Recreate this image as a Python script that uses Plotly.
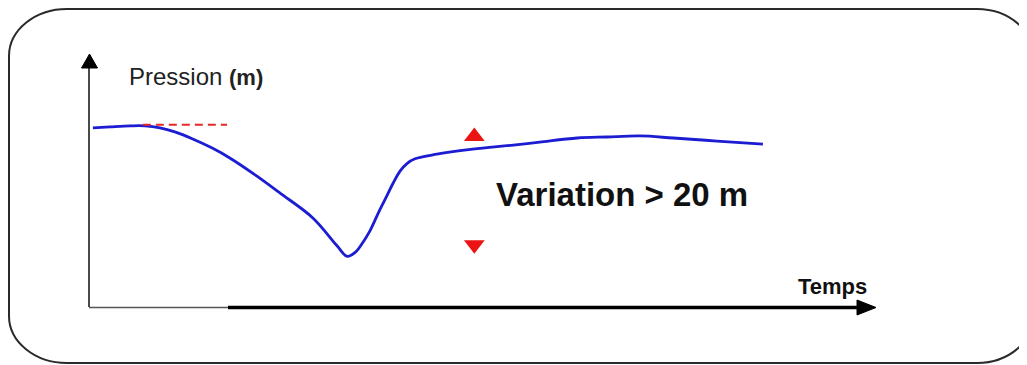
import plotly.graph_objects as go

# ---- data (time in arbitrary units, pressure in m) ----
time_vals = [0.5, 2.7, 5.3, 7.2, 9.1, 11.0, 13.3, 15.8, 18.1, 21.3, 24.5, 28.7,
             31.8, 33.1, 34.2, 35.0, 36.0, 37.1, 38.2, 39.0,
             39.9, 40.8, 41.8, 44.6, 49.2, 54.4, 57.8, 62.6, 66.4, 70.6, 74.9,
             80.5, 86.4]
pressure_vals = [35.4, 35.6, 35.8, 35.8, 35.4, 34.6, 33.2, 31.4, 29.4, 26.1, 22.5,
                 17.6, 12.1, 10.0, 10.9, 12.5, 15.0, 18.6, 22.0,
                 24.5, 26.9, 28.4, 29.3, 30.2, 31.2, 32.0, 32.6, 33.4, 33.6, 33.8,
                 33.4, 32.8, 32.2]
ref_time = [6.9, 17.7]
ref_pressure = [36.0, 36.0]
marker_time = [49.4, 49.4]
marker_pressure = [33.7, 12.3]
marker_symbols = ["triangle-up", "triangle-down"]

# page is 1027x365 but the figure sits at an 8px body offset
PAGE_W, PAGE_H = 1027, 365
OFF = 8
W, H = PAGE_W - OFF, PAGE_H - OFF
# page-pixel anchors of the axes origin and scale
OX, OY = 89, 307
SX, SY = 7.8, 5.06


def px(x):
    return (x - OFF) / W


def py(y):
    return 1 - (y - OFF) / H


fig = go.Figure()
fig.add_trace(go.Scatter(x=time_vals, y=pressure_vals, mode="lines",
                         line=dict(color="rgb(28,28,210)", width=2.8, shape="spline", smoothing=1.0),
                         hoverinfo="skip"))
fig.add_trace(go.Scatter(x=ref_time, y=ref_pressure, mode="lines",
                         line=dict(color="rgb(230,40,40)", width=2, dash="8px,5px"),
                         hoverinfo="skip"))
fig.add_trace(go.Scatter(x=marker_time, y=marker_pressure, mode="markers",
                         marker=dict(symbol=marker_symbols, size=18, color="rgb(235,20,20)",
                                     line=dict(width=0)),
                         hoverinfo="skip"))

shapes = []
# rounded frame
L, T, R, B = 9, 9, 1035, 363
rxl, ryl = 58, 47
rxr, ryr = 58, 50
k = 0.552
path = (
    f"M {px(L + rxl)},{py(T)} L {px(R - rxr)},{py(T)} "
    f"C {px(R - rxr + k * rxr)},{py(T)} {px(R)},{py(T + ryr - k * ryr)} {px(R)},{py(T + ryr)} "
    f"L {px(R)},{py(B - ryr)} "
    f"C {px(R)},{py(B - ryr + k * ryr)} {px(R - rxr + k * rxr)},{py(B)} {px(R - rxr)},{py(B)} "
    f"L {px(L + rxl)},{py(B)} "
    f"C {px(L + rxl - k * rxl)},{py(B)} {px(L)},{py(B - ryl + k * ryl)} {px(L)},{py(B - ryl)} "
    f"L {px(L)},{py(T + ryl)} "
    f"C {px(L)},{py(T + ryl - k * ryl)} {px(L + rxl - k * rxl)},{py(T)} {px(L + rxl)},{py(T)} Z"
)
shapes.append(dict(type="path", xref="paper", yref="paper", path=path,
                   line=dict(color="#2a2a2a", width=2)))
# vertical axis
shapes.append(dict(type="line", xref="paper", yref="paper", x0=px(89), x1=px(89),
                   y0=py(307), y1=py(66), line=dict(color="#4a4a4a", width=2)))
shapes.append(dict(type="path", xref="paper", yref="paper",
                   path=f"M {px(81.5)},{py(68)} L {px(97.5)},{py(68)} L {px(89.5)},{py(54)} Z",
                   fillcolor="black", line=dict(color="black", width=1)))
# horizontal axis
shapes.append(dict(type="line", xref="paper", yref="paper", x0=px(89), x1=px(228),
                   y0=py(307.5), y1=py(307.5), line=dict(color="#555555", width=1.5)))
shapes.append(dict(type="line", xref="paper", yref="paper", x0=px(228), x1=px(860),
                   y0=py(307.5), y1=py(307.5), line=dict(color="black", width=3.5)))
shapes.append(dict(type="path", xref="paper", yref="paper",
                   path=f"M {px(857)},{py(300)} L {px(876)},{py(307.5)} L {px(857)},{py(315)} Z",
                   fillcolor="black", line=dict(color="black", width=1)))

annotations = [
    dict(xref="paper", yref="paper", x=px(127), y=py(77), xanchor="left", yanchor="middle",
         text="Pression <span style='font-size:22px'><b>(m)</b></span>", showarrow=False,
         font=dict(family="Liberation Sans, Arial", size=24, color="#222222")),
    dict(xref="paper", yref="paper", x=px(622), y=py(194), xanchor="center", yanchor="middle",
         text="<b>Variation &gt; 20 m</b>", showarrow=False,
         font=dict(family="Liberation Sans, Arial", size=33, color="#111111")),
    dict(xref="paper", yref="paper", x=px(832), y=py(286), xanchor="center", yanchor="middle",
         text="<b>Temps</b>", showarrow=False,
         font=dict(family="Liberation Sans, Arial", size=22, color="#111111")),
]

fig.update_layout(
    width=W, height=H,
    margin=dict(l=0, r=0, t=0, b=0),
    paper_bgcolor="white", plot_bgcolor="white",
    showlegend=False,
    shapes=shapes, annotations=annotations,
    xaxis=dict(range=[-(OX - OFF) / SX, (PAGE_W - OX) / SX], visible=False, fixedrange=True),
    yaxis=dict(range=[-(PAGE_H - OY) / SY, (OY - OFF) / SY], visible=False, fixedrange=True),
)

fig.write_html("out.html")
